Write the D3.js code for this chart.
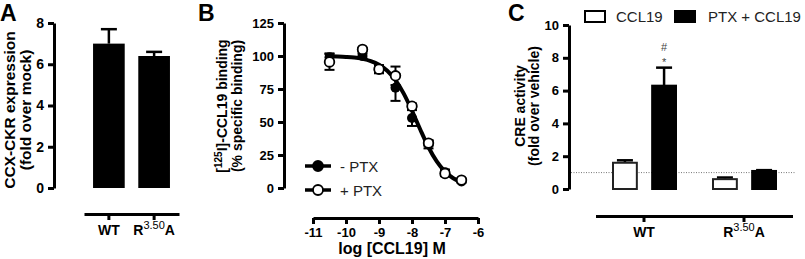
<!DOCTYPE html>
<html>
<head>
<meta charset="utf-8">
<script src="https://cdn.jsdelivr.net/npm/d3@7"></script>
<style>
  body { margin: 0; background: #fff; }
  svg { display: block; font-family: "Liberation Sans", Arial, sans-serif; }
</style>
</head>
<body>
<script>
// panel A
const aCategories = ["WT", "R3.50A"];
const aValues = [7.0, 6.4];
const aErrors = [0.7, 0.2];
const aTicks = [0, 2, 4, 6, 8];

// panel B
const bX = [-10.5, -9.5, -9, -8.5, -8, -7.5, -7, -6.5];
const bMinus = [99, 100, 90, 76, 53, 33, 12, 5];
const bMinusErr = [3, 2, 3, 10, 6, 3, 2, 1];
const bPlus = [95.5, 105, 90, 85, 62, 34, 11, 6];
const bPlusErr = [6, 1, 3, 7, 2, 2, 2, 1];
const bCurveX = [-10.5, -10.25, -10, -9.75, -9.5, -9.25, -9, -8.75, -8.5, -8.25, -8, -7.75, -7.5, -7.25, -7, -6.75, -6.5];
const bCurveY = [99.8, 99.6, 99.3, 98.8, 97.8, 96.2, 93.4, 88.8, 81.7, 71.5, 58.5, 44.3, 30.9, 20.1, 12.4, 7.4, 4.3];
const bYTicks = [0, 25, 50, 75, 100, 125];
const bXTicks = [-11, -10, -9, -8, -7, -6];

// panel C
const cGroups = ["WT", "R3.50A"];
const cSeries = ["CCL19", "PTX + CCL19"];
const cCCL19 = [1.6, 0.6];
const cCCL19Err = [0.15, 0.1];
const cPTX = [6.3, 1.1];
const cPTXErr = [1.1, 0.05];
const cTicks = [0, 2, 4, 6, 8, 10];

const svg = d3.select("body").append("svg")
  .attr("width", 805)
  .attr("height", 259);

const ff = "'Liberation Sans', Arial, sans-serif";

function panelLetter(x, t) {
  svg.append("text").attr("x", x).attr("y", 21)
    .style("font", "bold 23px " + ff)
    .text(t);
}

function styleAxis(g, size) {
  g.select(".domain").attr("stroke", "#000").attr("stroke-width", 3);
  g.selectAll(".tick line").attr("stroke", "#000").attr("stroke-width", 3);
  g.selectAll(".tick text").style("font", "bold " + (size || 13) + "px " + ff).attr("fill", "#000");
}

// label with R^3.50 A
function catLabel(sel, name) {
  sel.text(null);
  if (name === "R3.50A") {
    sel.append("tspan").text("R");
    sel.append("tspan").attr("dy", -6).style("font-size", "11px").style("font-weight", "normal").text("3.50");
    sel.append("tspan").attr("dy", 6).text("A");
  } else {
    sel.text(name);
  }
}

function yTitle(x, cy, size, gap, lines) {
  const t = svg.append("text")
    .attr("transform", "translate(" + x + "," + cy + ") rotate(-90)")
    .attr("text-anchor", "middle")
    .style("font", "bold " + size + "px " + ff);
  lines.forEach((l, i) => {
    const ts = t.append("tspan").attr("x", 0).attr("dy", i === 0 ? 0 : gap);
    if (Array.isArray(l)) {
      l.forEach(part => {
        const p = ts.append("tspan").text(part.t);
        if (part.sup) p.attr("dy", -5).style("font-size", "10px");
        if (part.after) p.attr("dy", 5);
      });
    } else {
      ts.text(l);
    }
  });
}

// ---------- A ----------
panelLetter(0, "A");
const aY = d3.scaleLinear().domain([0, 8]).range([188, 23]);
const aX = d3.scaleBand().domain(aCategories).range([84, 179]).paddingInner(0.3).paddingOuter(0.2);

svg.append("g").attr("transform", "translate(54,0)")
  .call(d3.axisLeft(aY).tickValues(aTicks).tickSize(6).tickSizeOuter(0).tickPadding(4))
  .call(g => styleAxis(g, 14));

svg.append("g").attr("transform", "translate(0,214)")
  .call(d3.axisBottom(aX).tickSize(6).tickSizeOuter(0).tickPadding(5))
  .call(g => styleAxis(g, 14))
  .call(g => g.selectAll(".tick text").each(function(d) { catLabel(d3.select(this), d); }));

svg.append("g").selectAll("line").data(aCategories).join("line")
  .attr("x1", d => aX(d) + aX.bandwidth() / 2)
  .attr("x2", d => aX(d) + aX.bandwidth() / 2)
  .attr("y1", (d, i) => aY(aValues[i]))
  .attr("y2", (d, i) => aY(aValues[i] + aErrors[i]))
  .attr("stroke", "#000").attr("stroke-width", 2.5);
svg.append("g").selectAll("line").data(aCategories).join("line")
  .attr("x1", d => aX(d) + aX.bandwidth() / 2 - 8)
  .attr("x2", d => aX(d) + aX.bandwidth() / 2 + 8)
  .attr("y1", (d, i) => aY(aValues[i] + aErrors[i]))
  .attr("y2", (d, i) => aY(aValues[i] + aErrors[i]))
  .attr("stroke", "#000").attr("stroke-width", 2.5);
svg.append("g").selectAll("rect").data(aCategories).join("rect")
  .attr("x", d => aX(d))
  .attr("y", (d, i) => aY(aValues[i]))
  .attr("width", aX.bandwidth())
  .attr("height", (d, i) => aY(0) - aY(aValues[i]))
  .attr("fill", "#000");

yTitle(15, 110, 15.5, 16, ["CCX-CKR expression", "(fold over mock)"]);

// ---------- B ----------
panelLetter(198, "B");
const bY = d3.scaleLinear().domain([0, 125]).range([188, 23]);
const bXs = d3.scaleLinear().domain([-11, -6]).range([313, 478]);

svg.append("g").attr("transform", "translate(284,0)")
  .call(d3.axisLeft(bY).tickValues(bYTicks).tickSize(6).tickSizeOuter(0).tickPadding(4))
  .call(g => styleAxis(g, 13));
svg.append("g").attr("transform", "translate(0,218)")
  .call(d3.axisBottom(bXs).tickValues(bXTicks).tickSize(6).tickSizeOuter(0).tickPadding(4).tickFormat(d3.format("d")))
  .call(g => styleAxis(g, 13))
  .call(g => g.selectAll(".tick text").text(d => "-" + Math.abs(d)));

svg.append("text").attr("x", 392).attr("y", 254)
  .attr("text-anchor", "middle")
  .style("font", "bold 16px " + ff)
  .text("log [CCL19] M");

yTitle(227, 106, 14, 14.5, [[{ t: "[" }, { t: "125", sup: true }, { t: "I]-CCL19 binding", after: true }], "(% specific binding)"]);

// error bars
function bErr(vals, errs) {
  const g = svg.append("g").attr("stroke", "#000").attr("stroke-width", 2);
  g.selectAll(".v").data(bX).join("line")
    .attr("x1", d => bXs(d)).attr("x2", d => bXs(d))
    .attr("y1", (d, i) => bY(vals[i] - errs[i]))
    .attr("y2", (d, i) => bY(vals[i] + errs[i]));
  [1, -1].forEach(s => {
    g.selectAll(".c" + s).data(bX).join("line")
      .attr("x1", d => bXs(d) - 5).attr("x2", d => bXs(d) + 5)
      .attr("y1", (d, i) => bY(vals[i] + s * errs[i]))
      .attr("y2", (d, i) => bY(vals[i] + s * errs[i]));
  });
}
bErr(bMinus, bMinusErr);
bErr(bPlus, bPlusErr);

svg.append("path")
  .datum(bCurveX.map((x, i) => [x, bCurveY[i]]))
  .attr("d", d3.line().x(d => bXs(d[0])).y(d => bY(d[1])).curve(d3.curveMonotoneX))
  .attr("fill", "none").attr("stroke", "#000").attr("stroke-width", 4);

svg.append("g").selectAll("circle").data(bX).join("circle")
  .attr("cx", d => bXs(d)).attr("cy", (d, i) => bY(bMinus[i]))
  .attr("r", 5).attr("fill", "#000");
svg.append("g").selectAll("circle").data(bX).join("circle")
  .attr("cx", d => bXs(d)).attr("cy", (d, i) => bY(bPlus[i]))
  .attr("r", 4.8).attr("fill", "#fff").attr("stroke", "#000").attr("stroke-width", 1.8);

const bLegend = [{ name: "- PTX", fill: "#000" }, { name: "+ PTX", fill: "#fff" }];
bLegend.forEach((l, i) => {
  const y = 166 + i * 24;
  svg.append("line").attr("x1", 305).attr("x2", 331).attr("y1", y).attr("y2", y)
    .attr("stroke", "#000").attr("stroke-width", 3.5);
  svg.append("circle").attr("cx", 318).attr("cy", y).attr("r", 5)
    .attr("fill", l.fill).attr("stroke", "#000").attr("stroke-width", 1.8);
  svg.append("text").attr("x", 340).attr("y", y + 5.5)
    .style("font", "15px " + ff).attr("fill", "#222")
    .text(l.name);
});

// ---------- C ----------
panelLetter(508, "C");
const cY = d3.scaleLinear().domain([0, 10]).range([189, 25]);
const cX0 = d3.scaleBand().domain(cGroups).range([594, 794]);
const cX1 = d3.scaleBand().domain(cSeries).range([18, 83]).paddingInner(0.34);

svg.append("g").attr("transform", "translate(569,0)")
  .call(d3.axisLeft(cY).tickValues(cTicks).tickSize(6).tickSizeOuter(0).tickPadding(4))
  .call(g => styleAxis(g, 13));
svg.append("g").attr("transform", "translate(0,216)")
  .call(d3.axisBottom(cX0).tickSize(6).tickSizeOuter(0).tickPadding(5))
  .call(g => styleAxis(g, 14))
  .call(g => g.select(".domain").attr("d", "M596,0.5H793"))
  .call(g => g.selectAll(".tick text").each(function(d) { catLabel(d3.select(this), d); }));

svg.append("line").attr("x1", 571).attr("x2", 795)
  .attr("y1", cY(1)).attr("y2", cY(1))
  .attr("stroke", "#777").attr("stroke-width", 1).attr("stroke-dasharray", "1,1.5");

yTitle(525, 106, 14, 14, ["CRE activity", "(fold over vehicle)"]);

const cData = [];
cGroups.forEach((g, i) => {
  cData.push({ g: g, s: cSeries[0], v: cCCL19[i], e: cCCL19Err[i] });
  cData.push({ g: g, s: cSeries[1], v: cPTX[i], e: cPTXErr[i] });
});
const cxm = d => cX0(d.g) + cX1(d.s) + cX1.bandwidth() / 2;
svg.append("g").selectAll("line").data(cData).join("line")
  .attr("x1", cxm).attr("x2", cxm)
  .attr("y1", d => cY(d.v)).attr("y2", d => cY(d.v + d.e))
  .attr("stroke", "#000").attr("stroke-width", 2.5);
svg.append("g").selectAll("line").data(cData).join("line")
  .attr("x1", d => cxm(d) - 8).attr("x2", d => cxm(d) + 8)
  .attr("y1", d => cY(d.v + d.e)).attr("y2", d => cY(d.v + d.e))
  .attr("stroke", "#000").attr("stroke-width", 2.5);
svg.append("g").selectAll("rect").data(cData).join("rect")
  .attr("x", d => cX0(d.g) + cX1(d.s) + 1)
  .attr("y", d => cY(d.v))
  .attr("width", cX1.bandwidth() - 2)
  .attr("height", d => cY(0) - cY(d.v))
  .attr("fill", d => d.s === cSeries[0] ? "#fff" : "#000")
  .attr("stroke", d => d.s === cSeries[0] ? "#222" : "#000")
  .attr("stroke-width", 2);

// significance marks over WT PTX bar
const sigX = cxm(cData[1]);
svg.append("text").attr("x", sigX).attr("y", 51).attr("text-anchor", "middle")
  .style("font", "11px " + ff).attr("fill", "#444").text("#");
svg.append("text").attr("x", sigX).attr("y", 66).attr("text-anchor", "middle")
  .style("font", "11px " + ff).attr("fill", "#444").text("*");

// legend C
const cLeg = [{ x: 584, tx: 616 }, { x: 674, tx: 708 }];
cSeries.forEach((s, i) => {
  svg.append("rect").attr("x", cLeg[i].x + 1).attr("y", 11).attr("width", 20).attr("height", 11)
    .attr("fill", i === 0 ? "#fff" : "#000").attr("stroke", "#000").attr("stroke-width", 2);
  svg.append("text").attr("x", cLeg[i].tx).attr("y", 22)
    .style("font", "15px " + ff).attr("fill", "#222")
    .text(s);
});
</script>
</body>
</html>
